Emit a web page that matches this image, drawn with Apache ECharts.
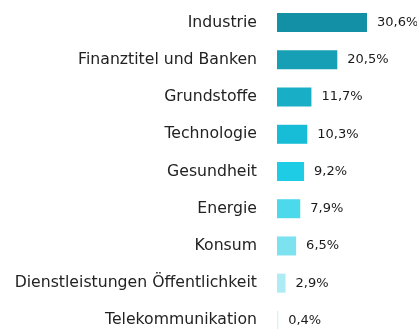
<!DOCTYPE html>
<html>
<head>
<meta charset="utf-8">
<script src="https://cdn.jsdelivr.net/npm/echarts@6/dist/echarts.min.js"></script>
<style>
html,body{margin:0;padding:0;background:#fff;overflow:hidden;height:329px;}
#chart{width:417px;height:345px;}
</style>
</head>
<body>
<div id="chart"></div>
<script>
// Sector weights (%), top to bottom
const categories = [
  'Industrie',
  'Finanztitel und Banken',
  'Grundstoffe',
  'Technologie',
  'Gesundheit',
  'Energie',
  'Konsum',
  'Dienstleistungen Öffentlichkeit',
  'Telekommunikation'
];
const values = [30.6, 20.5, 11.7, 10.3, 9.2, 7.9, 6.5, 2.9, 0.4];
const barColors = [
  '#1490A6', '#169FB5', '#18AEC6', '#17BCD6', '#1ECCE6',
  '#4DD9EC', '#7CE2F0', '#AEEBF4', '#D3F3F8'
];

const chart = echarts.init(document.getElementById('chart'), null, {renderer: 'canvas'});
chart.setOption({
  animation: false,
  grid: {left: 277, top: 4, width: 90 / 30.6 * 40, height: 335},
  xAxis: {
    type: 'value', min: 0, max: 40,
    show: false
  },
  yAxis: {
    type: 'category',
    inverse: true,
    data: categories,
    axisLine: {show: false},
    axisTick: {show: false},
    splitLine: {show: false},
    axisLabel: {
      margin: 20,
      color: '#222',
      fontFamily: 'DejaVu Sans',
      fontSize: 15.7
    }
  },
  series: [{
    type: 'bar',
    barWidth: 19,
    data: values.map((v, i) => ({value: v, itemStyle: {color: barColors[i]}})),
    label: {
      show: true,
      position: 'right',
      distance: 10,
      color: '#1a1a1a',
      fontFamily: 'DejaVu Sans',
      fontSize: 13,
      formatter: p => p.value.toFixed(1).replace('.', ',') + '%'
    }
  }]
});
</script>
</body>
</html>
